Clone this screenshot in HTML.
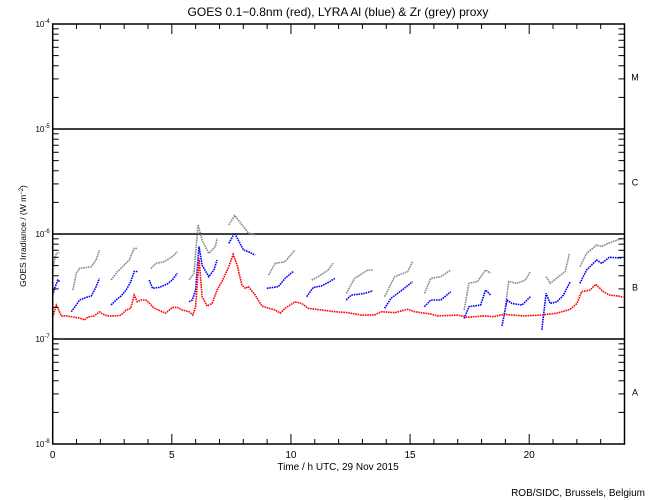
<!DOCTYPE html>
<html><head><meta charset="utf-8"><style>
html,body{margin:0;padding:0;background:#fff;}
svg{display:block;font-family:"Liberation Sans",sans-serif;}
</style></head><body>
<svg id="chart" width="650" height="500" viewBox="0 0 650 500" xmlns="http://www.w3.org/2000/svg">
<rect x="0" y="0" width="650" height="500" fill="#fff"/>
<text x="338" y="16" text-anchor="middle" font-size="12">GOES 0.1−0.8nm (red), LYRA Al (blue) &amp; Zr (grey) proxy</text>
<g id="plot"></g>
<text x="338" y="470" text-anchor="middle" font-size="10">Time / h UTC, 29 Nov 2015</text>
<text transform="translate(26,236) rotate(-90)" text-anchor="middle" font-size="8.5">GOES Irradiance / (W m<tspan dy="-3" font-size="6">−2</tspan><tspan dy="3">)</tspan></text>
<text x="645" y="496" text-anchor="end" font-size="10">ROB/SIDC, Brussels, Belgium</text>
</svg>
<script>
const xTicks = [0, 5, 10, 15, 20];
const yDecades = [-8, -7, -6, -5, -4];
const classLabels = ["A", "B", "C", "M"];
const classBase = [-8, -7, -6, -5];
// values in units of 1e-7 W/m^2
const redT = [0,0.15,0.22,0.36,0.57,0.85,1.13,1.34,1.48,1.75,1.96,2.1,2.3,2.66,2.87,3.08,3.28,3.42,3.55,3.7,3.91,4.05,4.25,4.6,4.74,5.02,5.23,5.44,5.72,5.88,6.0,6.14,6.27,6.48,6.69,6.9,7.1,7.39,7.57,7.74,7.94,8.08,8.22,8.5,8.78,9.06,9.34,9.55,9.75,10.17,10.45,10.73,11.28,11.84,12.4,12.95,13.5,13.8,14.35,14.9,15.18,15.87,16.15,16.99,17.4,18.1,18.52,18.94,19.77,20.46,21.16,21.72,22.0,22.2,22.55,22.8,23.11,23.38,23.73,23.95];
const redV = [1.62,2.1,1.97,1.66,1.66,1.62,1.58,1.52,1.62,1.66,1.81,1.73,1.66,1.66,1.69,1.89,1.97,2.62,2.26,2.35,2.35,2.2,1.97,1.82,1.76,2.0,2.0,1.89,1.82,1.69,2.03,5.85,2.53,2.06,2.18,2.93,3.52,4.88,6.4,5.07,3.27,3.04,3.15,2.62,2.06,1.96,1.89,1.76,1.96,2.26,2.18,1.96,1.89,1.82,1.78,1.69,1.69,1.82,1.78,1.92,1.82,1.73,1.66,1.69,1.61,1.66,1.63,1.72,1.66,1.69,1.76,1.92,2.18,2.82,2.93,3.32,2.82,2.62,2.57,2.5];
// null separates segments
const blueT = [0,0.08,0.22,0.29,null,0.78,0.99,1.13,1.41,1.62,1.82,1.96,null,2.45,2.66,2.87,3.08,3.28,3.42,3.56,null,4.05,4.19,4.47,4.81,5.02,5.23,null,5.72,5.86,6.0,6.14,6.27,6.55,6.76,6.9,null,7.39,7.63,8.01,8.22,8.5,null,8.99,9.47,9.75,10.1,null,10.66,10.94,11.28,11.63,11.84,null,12.32,12.53,13.1,13.44,null,13.93,14.2,14.76,15.1,null,15.6,15.87,16.29,16.71,null,17.27,17.47,17.96,18.17,18.38,null,18.86,19.07,19.28,19.7,20.05,null,20.53,20.71,20.88,21.16,21.44,21.72,null,22.13,22.41,22.83,23.04,23.36,23.9];
const blueV = [2.62,3.04,3.65,3.52,null,1.82,2.11,2.35,2.49,2.57,3.15,3.78,null,2.11,2.35,2.57,2.93,3.52,4.39,4.39,null,3.65,3.04,3.1,3.34,3.65,4.23,null,2.26,2.35,2.93,7.6,5.07,3.92,4.54,5.65,null,8.16,10.2,7.04,6.77,6.31,null,3.04,3.15,3.78,4.39,null,2.53,3.1,3.2,3.52,3.78,null,2.35,2.62,2.72,2.88,null,1.96,2.44,3.04,3.52,null,2.03,2.35,2.35,2.82,null,1.57,2.03,2.11,2.93,2.62,null,1.33,2.35,2.18,2.11,2.53,null,1.22,2.72,2.18,2.26,2.62,3.52,null,3.39,4.54,5.65,5.26,6.0,5.9];
const greyT = [0,0.01,0.15,0.29,null,0.85,0.99,1.13,1.41,1.62,1.82,1.96,null,2.45,2.73,2.94,3.21,3.42,3.56,null,4.12,4.33,4.67,5.02,5.23,null,5.72,5.93,6.1,6.27,6.55,6.83,6.9,null,7.39,7.64,7.94,8.22,8.5,null,9.06,9.34,9.75,10.17,null,10.87,11.14,11.56,11.77,null,12.32,12.67,13.23,13.44,null,13.93,14.35,14.9,15.1,null,15.6,15.87,16.29,16.71,null,17.27,17.47,17.82,18.17,18.38,null,19.0,19.14,19.49,19.84,20.05,null,20.71,20.88,21.23,21.51,21.69,null,22.13,22.41,22.83,23.04,23.32,23.9];
const greyV = [3.92,4.88,6.54,6.6,null,2.93,4.23,4.7,4.8,4.88,5.65,7.04,null,3.65,4.39,4.88,5.65,7.3,7.3,null,4.7,5.26,5.44,6.09,6.77,null,3.65,4.23,12.3,8.77,6.54,7.6,9.1,null,12.2,15.0,12.3,10.2,9.8,null,4.07,5.26,5.44,7.04,null,3.65,3.92,4.54,5.26,null,2.72,3.78,4.54,4.54,null,2.53,3.92,4.39,5.44,null,2.72,3.78,3.92,4.54,null,1.89,3.39,3.52,4.54,4.23,null,2.03,3.52,3.39,3.65,4.39,null,3.92,3.39,3.92,4.39,6.54,null,4.88,6.54,7.86,7.6,8.16,9.1];

const NS = "http://www.w3.org/2000/svg";
const L = 52.7, R = 624.5, T = 24, B = 444;
const xs = h => L + h * (R - L) / 24;
const ys = logv => T + (-4 - logv) * (B - T) / 4;
const yv = v => ys(Math.log10(v * 1e-7));
const plot = document.getElementById("plot");
function mk(tag, attrs) { const e = document.createElementNS(NS, tag); for (const k in attrs) e.setAttribute(k, attrs[k]); plot.appendChild(e); return e; }

// class lines
for (const d of [-7, -6, -5]) {
  const ln = mk("line", {x1: L, x2: R, y1: ys(d), y2: ys(d), stroke: "#000", "stroke-width": 1.5});
  
  
}
// series
function series(T_, V_, color, name) {
  let pts = [];
  const flush = () => {
    if (pts.length) {
      const p = mk("polyline", {points: pts.join(" "), fill: "none", stroke: color, "stroke-width": 1.6, "stroke-dasharray": "1.6 0.8"});
      
      
    }
    pts = [];
  };
  for (let i = 0; i < T_.length; i++) {
    if (T_[i] === null) { flush(); continue; }
    pts.push(xs(T_[i]).toFixed(1) + "," + yv(V_[i]).toFixed(1));
  }
  flush();
}
series(greyT, greyV, "#888", "zr-proxy-series");
series(blueT, blueV, "#0000ff", "al-proxy-series");
series(redT, redV, "#ff0000", "goes-series");

// frame
const fr = mk("rect", {x: L, y: T, width: R - L, height: B - T, fill: "none", stroke: "#000", "stroke-width": 1.5});



// y ticks
for (const d of yDecades) {
  const lb = mk("text", {x: L - 3, y: ys(d) + 3, "text-anchor": "end", "font-size": 8});
  lb.innerHTML = '10<tspan dy="-4" font-size="6">' + d + '</tspan>';
  
  
  if (d === -4) continue;
  for (let m = 2; m <= 9; m++) {
    const y = ys(d + Math.log10(m));
    const t1 = mk("line", {x1: L, x2: L + 6, y1: y, y2: y, stroke: "#000"});
    
    
    const t2 = mk("line", {x1: R, x2: R - 6, y1: y, y2: y, stroke: "#000"});
    
    
  }
}
// class labels
for (let i = 0; i < classLabels.length; i++) {
  const t = mk("text", {x: 635, y: ys(classBase[i] + 0.5) + 4, "text-anchor": "middle", "font-size": 9});
  t.textContent = classLabels[i];
  
  
}
// x ticks
for (let h = 1; h < 24; h++) {
  const len = h % 5 === 0 ? 10 : 5;
  const a = mk("line", {x1: xs(h), x2: xs(h), y1: B, y2: B - len, stroke: "#000"});
  
  
  const b = mk("line", {x1: xs(h), x2: xs(h), y1: T, y2: T + len, stroke: "#000"});
  
  
}
for (const h of xTicks) {
  const t = mk("text", {x: xs(h), y: 458, "text-anchor": "middle", "font-size": 10});
  t.textContent = h;
  
  
}
</script>
</body></html>
